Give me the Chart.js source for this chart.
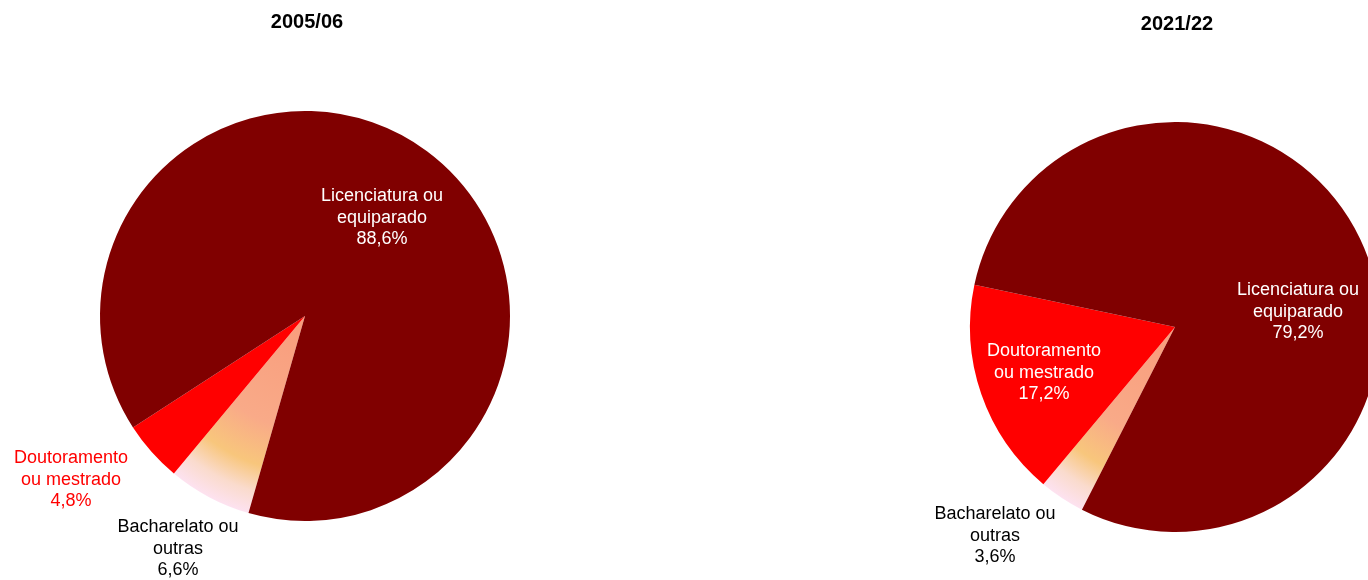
<!DOCTYPE html>
<html>
<head>
<meta charset="utf-8">
<script src="https://cdn.jsdelivr.net/npm/chart.js@4"></script>
<style>
  html, body { margin: 0; padding: 0; background: #fff; overflow: hidden; width: 1368px; height: 580px; }
  canvas { position: absolute; top: 0; }
  #grafico1 { left: 0; }
  #grafico2 { left: 740px; }
</style>
</head>
<body>
<canvas id="grafico1" width="640" height="580"></canvas>
<canvas id="grafico2" width="660" height="580"></canvas>
<script>
// Dados (ordem no sentido horário a partir da rotação)
const categorias = [["Bacharelato ou", "outras"], ["Doutoramento", "ou mestrado"], ["Licenciatura ou", "equiparado"]];
const titulo1 = "2005/06";
const valores1 = [6.6, 4.8, 88.6];
const titulo2 = "2021/22";
const valores2 = [3.6, 17.2, 79.2];

const corLic = "#800000";
const corDout = "#FF0000";

// Cor de cada fatia; "Bacharelato ou outras" tem preenchimento em degradê
function corFatia(ctx) {
    if (ctx.dataIndex === 1) return corDout;
    if (ctx.dataIndex === 2) return corLic;
    const area = ctx.chart.chartArea;
    if (!area) return "#F9B88A";
    const cx = (area.left + area.right) / 2;
    const cy = (area.top + area.bottom) / 2;
    const r = Math.min(area.right - area.left, area.bottom - area.top) / 2;
    const g = ctx.chart.ctx.createRadialGradient(cx, cy, 0, cx, cy, r);
    g.addColorStop(0, "#F99C7C");
    g.addColorStop(0.55, "#F9AA88");
    g.addColorStop(0.76, "#F8C67C");
    g.addColorStop(0.89, "#FADBCD");
    g.addColorStop(1, "#FDE2F0");
    return g;
}

// Plugin para desenhar título e rótulos das fatias
const rotulosPlugin = {
    id: "rotulos",
    afterDatasetsDraw(chart, args, opts) {
        const ctx = chart.ctx;
        const meta = chart.getDatasetMeta(0);
        const cx = meta.data[0].x;
        const cy = meta.data[0].y;
        const valores = chart.data.datasets[0].data;
        ctx.save();
        ctx.textAlign = "center";
        ctx.textBaseline = "middle";
        ctx.fillStyle = "#000";
        ctx.font = "bold 20px 'Liberation Sans', Arial, sans-serif";
        ctx.fillText(opts.titulo, cx + opts.tituloPos[0], cy + opts.tituloPos[1]);
        ctx.font = "18px 'Liberation Sans', Arial, sans-serif";
        chart.data.labels.forEach((lab, i) => {
            const linhas = lab.concat([valores[i].toFixed(1).replace(".", ",") + "%"]);
            const [dx, dy] = opts.pos[i];
            ctx.fillStyle = opts.cores[i];
            linhas.forEach((t, k) => {
                ctx.fillText(t, cx + dx, cy + dy + (k - 1) * 21.5);
            });
        });
        ctx.restore();
    },
};

function criarGrafico(el, valores, rotacao, padding, rotulos) {
    return new Chart(el, {
        type: "pie",
        data: {
            labels: categorias,
            datasets: [
                {
                    data: valores,
                    backgroundColor: corFatia,
                    borderWidth: 0,
                },
            ],
        },
        options: {
            responsive: false,
            animation: false,
            rotation: rotacao,
            layout: { padding: padding },
            plugins: {
                legend: { display: false },
                tooltip: { enabled: false },
                rotulos: rotulos,
            },
        },
        plugins: [rotulosPlugin],
    });
}

criarGrafico(
    document.getElementById("grafico1"),
    valores1,
    196,
    { left: 100, right: 130, top: 111, bottom: 59 },
    {
        titulo: titulo1,
        tituloPos: [2, -294],
        pos: [[-127, 233], [-234, 164], [77, -98]],
        cores: ["#000000", "#FF0000", "#FFFFFF"],
    }
);

criarGrafico(
    document.getElementById("grafico2"),
    valores2,
    207,
    { left: 230, right: 20, top: 122, bottom: 48 },
    {
        titulo: titulo2,
        tituloPos: [2, -303],
        pos: [[-180, 209], [-131, 46], [123, -15]],
        cores: ["#000000", "#FFFFFF", "#FFFFFF"],
    }
);
</script>
</body>
</html>
